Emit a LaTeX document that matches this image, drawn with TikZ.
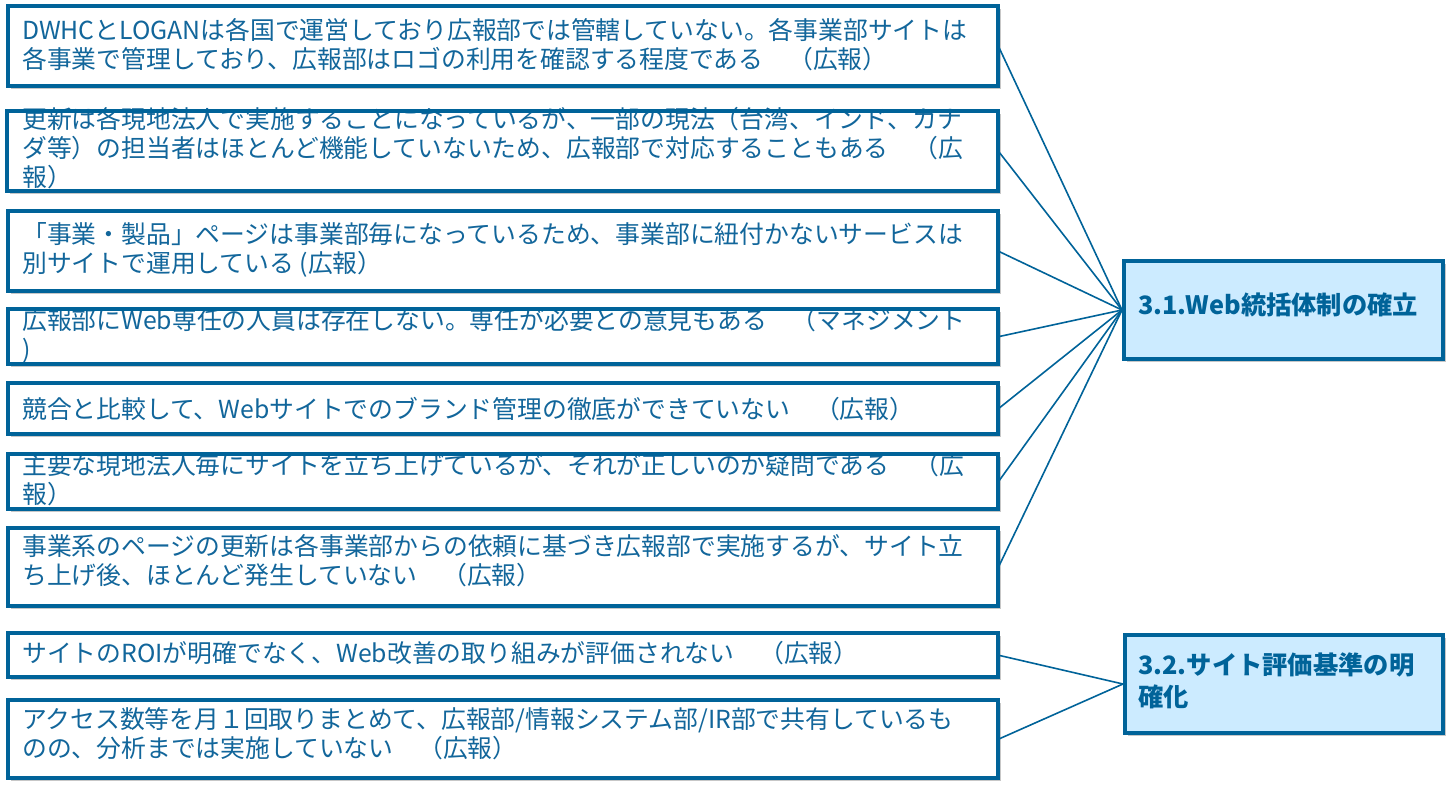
\documentclass[tikz,border=0pt]{standalone}
\usepackage{fontspec}
\setmainfont{Noto Sans CJK JP}
\usetikzlibrary{shadows}
\definecolor{bblue}{RGB}{0,99,153}
\definecolor{tblue}{RGB}{18,102,155}
\definecolor{lblue}{RGB}{204,235,255}
\tikzset{
  boxbase/.style={rectangle, anchor=north west, fill=white, inner sep=0pt,
    drop shadow={shadow xshift=3pt, shadow yshift=-3pt, opacity=0.22, fill=black}},
  boxtxt/.style={anchor=west, align=left, inner sep=0pt, text=tblue,
    font=\fontsize{24.8}{29}\selectfont},
  bord/.style={draw=bblue, line width=4pt},
  titlebox/.style={rectangle, anchor=north west, fill=lblue, draw=bblue, line width=4pt, inner sep=0pt,
    drop shadow={shadow xshift=3pt, shadow yshift=-3pt, opacity=0.22, fill=black}},
  titletxt/.style={anchor=west, align=left, inner sep=0pt, text=bblue,
    font=\fontsize{25.3}{32}\selectfont\bfseries},
  conn/.style={draw=bblue, line width=1.6pt}
}
\begin{document}
\begin{tikzpicture}[x=1pt,y=-1pt]
\useasboundingbox[fill=white] (0,0) rectangle (1456,797);
% left boxes (fill + shadow)
\node[boxbase, minimum width=990pt, minimum height=80pt] (b1) at (8,6) {};
\node[boxbase, minimum width=991pt, minimum height=80pt] (b2) at (7,111) {};
\node[boxbase, minimum width=990pt, minimum height=80pt] (b3) at (8,211) {};
\node[boxbase, minimum width=990pt, minimum height=55pt] (b4) at (8,309) {};
\node[boxbase, minimum width=990pt, minimum height=51pt] (b5) at (8,383) {};
\node[boxbase, minimum width=990pt, minimum height=55pt] (b6) at (8,454) {};
\node[boxbase, minimum width=990pt, minimum height=78pt] (b7) at (8,528) {};
\node[boxbase, minimum width=990pt, minimum height=44pt] (b8) at (8,633) {};
\node[boxbase, minimum width=990pt, minimum height=78pt] (b9) at (8,700) {};
% texts
\node[boxtxt] (t1) at ([xshift=14pt,yshift=2pt]b1.west) {DWHCとLOGANは各国で運営しており広報部では管轄していない。各事業部サイトは\\各事業で管理しており、広報部はロゴの利用を確認する程度である　（広報）};
\node[boxtxt] (t2) at ([xshift=15pt,yshift=3pt]b2.west) {更新は各現地法人で実施することになっているが、一部の現法（台湾、インド、カナ\\ダ等）の担当者はほとんど機能していないため、広報部で対応することもある　（広\\報）};
\node[boxtxt] (t3) at ([xshift=14pt,yshift=1pt]b3.west) {「事業・製品」ページは事業部毎になっているため、事業部に紐付かないサービスは\\別サイトで運用している (広報）};
\node[boxtxt] (t4) at ([xshift=14pt,yshift=1pt]b4.west) {広報部にWeb専任の人員は存在しない。専任が必要との意見もある　（マネジメント\\)};
\node[boxtxt] (t5) at ([xshift=14pt]b5.west) {競合と比較して、Webサイトでのブランド管理の徹底ができていない　（広報）};
\node[boxtxt] (t6) at ([xshift=14pt,yshift=2pt]b6.west) {主要な現地法人毎にサイトを立ち上げているが、それが正しいのか疑問である　（広\\報）};
\node[boxtxt] (t7) at ([xshift=14pt,yshift=7pt]b7.west) {事業系のページの更新は各事業部からの依頼に基づき広報部で実施するが、サイト立\\ち上げ後、ほとんど発生していない　（広報）};
\node[boxtxt] (t8) at ([xshift=14pt,yshift=2pt]b8.west) {サイトのROIが明確でなく、Web改善の取り組みが評価されない　（広報）};
\node[boxtxt] (t9) at ([xshift=14pt,yshift=5pt]b9.west) {アクセス数等を月１回取りまとめて、広報部/情報システム部/IR部で共有しているも\\のの、分析までは実施していない　（広報）};
% borders on top
\foreach \b in {b1,b2,b3,b4,b5,b6,b7,b8,b9}{
  \draw[bord] (\b.north west) rectangle (\b.south east);
}
% title boxes
\node[titlebox, minimum width=319pt, minimum height=98pt] (A) at (1122,259) {};
\node[titletxt] (tA) at ([xshift=16pt,yshift=5pt]A.west) {3.1.Web統括体制の確立};
\node[titlebox, minimum width=318pt, minimum height=98pt] (B) at (1123,633) {};
\node[titletxt] (tB) at ([xshift=15pt,yshift=3pt]B.west) {3.2.サイト評価基準の明\\確化};
% connectors
\foreach \b in {b1,b2,b3,b4,b5,b6,b7}{
  \draw[conn] (\b.east) -- (A.west);
}
\foreach \b in {b8,b9}{
  \draw[conn] (\b.east) -- (B.west);
}
\end{tikzpicture}
\end{document}
